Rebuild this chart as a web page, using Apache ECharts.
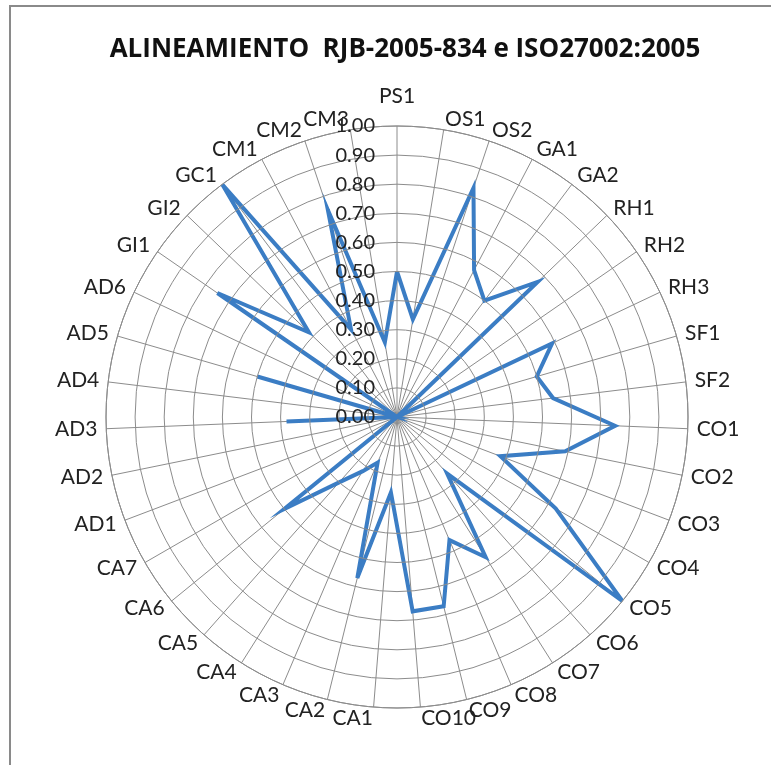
<!DOCTYPE html>
<html>
<head>
<meta charset="utf-8">
<script src="https://cdn.jsdelivr.net/npm/echarts@6/dist/echarts.min.js"></script>
<style>
html,body{margin:0;padding:0;background:#fff;}
#chart{width:771px;height:765px;}
</style>
</head>
<body>
<div id="chart"></div>
<script>
var titleText = 'ALINEAMIENTO  RJB-2005-834 e ISO27002:2005';
var categories = ['PS1','OS1','OS2','GA1','GA2','RH1','RH2','RH3','SF1','SF2',
  'CO1','CO2','CO3','CO4','CO5','CO6','CO7','CO8','CO9','CO10',
  'CA1','CA2','CA3','CA4','CA5','CA6','CA7',
  'AD1','AD2','AD3','AD4','AD5','AD6','GI1','GI2','GC1','CM1','CM2','CM3'];
var values = [0.50,0.34,0.83,0.57,0.50,0.67,0.00,0.59,0.50,0.54,
  0.75,0.59,0.38,0.63,1.00,0.26,0.57,0.46,0.67,0.67,
  0.26,0.57,0.17,0.22,0.30,0.50,0.00,
  0.00,0.00,0.38,0.00,0.50,0.00,0.75,0.42,1.00,0.34,0.75,0.26];
var radiusTicks = ['0.00','0.10','0.20','0.30','0.40','0.50','0.60','0.70','0.80','0.90','1.00'];

var n = categories.length;
var seriesData = values.map(function(v, i){ return [v, i]; });
seriesData.push([values[0], n]);

var chart = echarts.init(document.getElementById('chart'), null, {renderer:'canvas'});
var FONT = 'Lato';
var LABEL_SIZE = 21;
var option = {
  backgroundColor: '#ffffff',
  animation: false,
  title: {
    text: titleText,
    left: 400, top: 32, textAlign: 'center',
    textStyle: {fontFamily: 'Open Sans', fontWeight: 'bold', fontSize: 26, color: '#111'}
  },
  polar: {center: [397, 417], radius: 291},
  angleAxis: {
    type: 'value', min: 0, max: n, interval: 1,
    startAngle: 90, clockwise: true,
    axisLine: {show: true, lineStyle: {color: '#8c8c8c', width: 1}},
    axisTick: {show: false},
    splitLine: {show: true, lineStyle: {color: '#8c8c8c', width: 1}},
    axisLabel: {show: false}
  },
  radiusAxis: {
    type: 'value', min: 0, max: 1, interval: 0.1,
    axisLine: {show: false},
    axisTick: {show: false},
    splitLine: {show: true, lineStyle: {color: '#8c8c8c', width: 1}},
    axisLabel: {
      show: true, margin: 22, fontFamily: FONT, fontSize: 20, color: '#222',
      formatter: function(v){ return radiusTicks[Math.round(v*10)]; }
    },
    z: 10
  },
  series: [{
    type: 'line', coordinateSystem: 'polar',
    data: seriesData, symbol: 'none', smooth: false,
    lineStyle: {color: '#3b7dc4', width: 4, join: 'miter'},
    z: 5
  }]
};
chart.setOption(option);

// Category labels placed Excel-style around the outer ring (positions via the polar coordinate system)
var graphics = [
  {type: 'line', shape: {x1: 9, y1: 6, x2: 771, y2: 6}, style: {stroke: '#8a8a8a', lineWidth: 2}},
  {type: 'line', shape: {x1: 10, y1: 5, x2: 10, y2: 765}, style: {stroke: '#8a8a8a', lineWidth: 2}}
];
categories.forEach(function(name, i){
  var p = chart.convertToPixel({seriesIndex: 0}, [1.01, i]);
  var th = i / n * 2 * Math.PI;
  var s = Math.sin(th), c = Math.cos(th);
  var align = Math.abs(s) < 0.01 ? 'center' : (s > 0 ? 'left' : 'right');
  var x = p[0] + 6 * s;
  var y = p[1] - 8 * c;
  if (i === 0) { y -= 19; }
  graphics.push({
    type: 'text', x: x, y: y, z: 20,
    style: {text: name, fontFamily: FONT, fontSize: LABEL_SIZE, fill: '#222',
      textAlign: align, textVerticalAlign: 'middle'}
  });
});
chart.setOption({graphic: graphics});
</script>
</body>
</html>
